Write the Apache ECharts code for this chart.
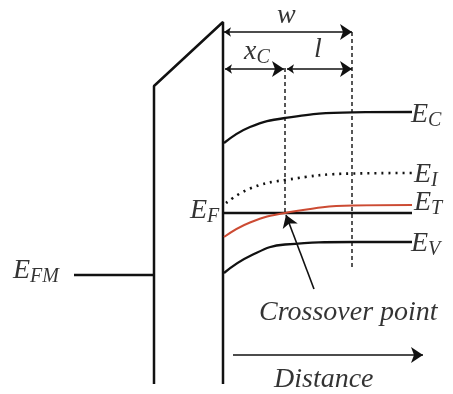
<!DOCTYPE html>
<html><head><meta charset="utf-8">
<script src="https://cdn.jsdelivr.net/npm/echarts@6/dist/echarts.min.js"></script>
<style>html,body{margin:0;padding:0;background:#fff}#c{width:453px;height:394px}</style>
</head><body><div id="c"></div>
<script>
// Diagram coordinates: x = distance (px-scale units), y = energy depth (axis inverted)
var oxideOutline = [[154,384],[154,86],[223,22],[223,384]];
var metalFermi   = [[74,275],[154,275]];
var bandEC = [[224,143],[250,127],[285,118],[353,112.3],[412,112]];
var bandEI = [[226,203],[250,188.5],[285,180],[353,173.5],[412,173]];
var bandEF = [[224,213],[412,213]];
var bandET = [[224,237],[250,222.5],[285,213],[353,205.5],[412,205]];
var bandEV = [[224,273],[250,256],[285,244.5],[353,242],[412,242]];
var dashXc = [[285,68],[285,213]];
var dashW  = [[352,32],[352,268]];
var arrowW   = [[224,32],[352,32]];
var arrowXc  = [[225,69],[284,69]];
var arrowL   = [[287,69],[352,69]];
var arrowPtr = [[314,289],[286,215]];
var arrowDist= [[233,355],[423,355]];
var labels = [
  {pos:[411,115], text:'{e|E}{s|C}'},
  {pos:[414,175], text:'{e|E}{s|I}'},
  {pos:[414,203], text:'{e|E}{s|T}'},
  {pos:[411,244], text:'{e|E}{s|V}'},
  {pos:[190,211], text:'{e|E}{s|F}'},
  {pos:[13,271],  text:'{e|E}{s|FM}'},
  {pos:[244,52],  text:'{e|x}{s|C}'},
  {pos:[314,50],  text:'{e|l}'},
  {pos:[277,16],  text:'{e|w}'},
  {pos:[259,313], text:'{t|Crossover point}'},
  {pos:[274,380], text:'{t|Distance}'}
];
var font = 'Liberation Serif';
function lineS(data, opt){
  return Object.assign({type:'line', data:data, symbol:'none', silent:true, animation:false,
    lineStyle:{color:'#111', width:2.3}}, opt||{});
}
function arrowS(pts, both){
  return {type:'lines', coordinateSystem:'cartesian2d', silent:true, animation:false,
    symbol: both ? ['arrow','arrow'] : ['none','arrow'], symbolSize:[7,12],
    lineStyle:{color:'#111', width:1.6, opacity:1},
    data:[{coords:pts}]};
}
var chart = echarts.init(document.getElementById('c'), null, {renderer:'canvas'});
chart.setOption({
  animation:false,
  grid:{left:0,right:0,top:0,bottom:0},
  xAxis:{type:'value',min:0,max:453,show:false},
  yAxis:{type:'value',min:0,max:394,inverse:true,show:false},
  series:[
    lineS(oxideOutline,{lineStyle:{color:'#111',width:2.5}}),
    lineS(metalFermi,{lineStyle:{color:'#111',width:2.5}}),
    lineS(bandEC,{smooth:0.45}),
    lineS(bandEI,{smooth:0.45,lineStyle:{color:'#111',width:2.6,type:[2,5]}}),
    lineS(bandEF),
    lineS(bandET,{smooth:0.45,lineStyle:{color:'#cc4b33',width:2}}),
    lineS(bandEV,{smooth:0.45}),
    lineS(dashXc,{lineStyle:{color:'#111',width:1.4,type:[4,3]}}),
    lineS(dashW,{lineStyle:{color:'#111',width:1.4,type:[4,3]}}),
    arrowS(arrowW,true), arrowS(arrowXc,true), arrowS(arrowL,true),
    arrowS(arrowPtr,false), arrowS(arrowDist,false),
    {type:'scatter', silent:true, animation:false, symbolSize:0,
     data: labels.map(function(l){return {value:l.pos, name:l.text};}),
     label:{show:true, position:'right', distance:0, color:'#000',
       formatter:function(p){return p.name;},
       rich:{
         e:{fontFamily:font,fontStyle:'italic',fontSize:28,color:'#000'},
         s:{fontFamily:font,fontStyle:'italic',fontSize:20,color:'#000',padding:[12,0,0,0]},
         t:{fontFamily:font,fontStyle:'italic',fontSize:28,color:'#000'}
       }}}
  ]
});
</script></body></html>
